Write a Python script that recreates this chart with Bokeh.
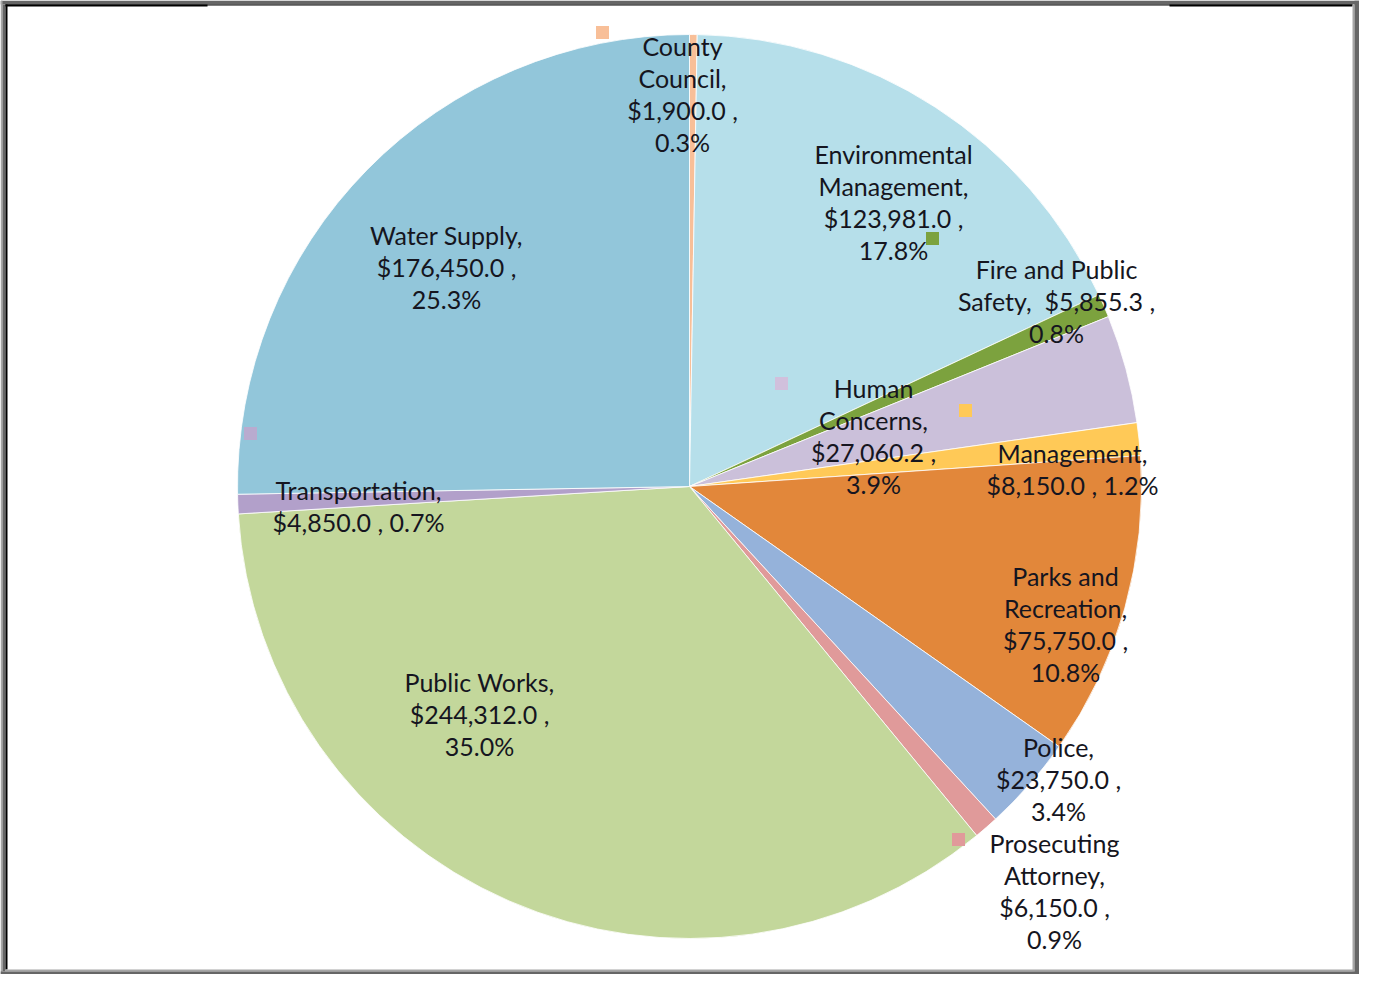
import math
from bokeh.plotting import figure
from bokeh.models import Range1d, ColumnDataSource
from bokeh.core.properties import value
from bokeh.embed import file_html
from bokeh.resources import INLINE

# ---------------- data ----------------
categories = ["County Council", "Environmental Management", "Fire and Public Safety",
              "Human Concerns", "Management", "Parks and Recreation", "Police",
              "Prosecuting Attorney", "Public Works", "Transportation", "Water Supply"]
amounts = [1900.0, 123981.0, 5855.3, 27060.2, 8150.0, 75750.0, 23750.0,
           6150.0, 244312.0, 4850.0, 176450.0]

# ---------------- styles / layout ----------------
colors = ["#F8BF98", "#B6DFEA", "#7CA23E", "#CBC0DA", "#FFC957", "#E2873A",
          "#95B2DA", "#E09A9A", "#C3D79B", "#B2A0CA", "#92C6DA"]

line_templates = {
    "County Council": ["County", "Council,", "{v} ,", "{p}"],
    "Environmental Management": ["Environmental", "Management,", "{v} ,", "{p}"],
    "Fire and Public Safety": ["Fire and Public", "Safety,\u00a0 {v} ,", "{p}"],
    "Human Concerns": ["Human", "Concerns,", "{v} ,", "{p}"],
    "Management": ["Management,", "{v} , {p}"],
    "Parks and Recreation": ["Parks and", "Recreation,", "{v} ,", "{p}"],
    "Police": ["Police,", "{v} ,", "{p}"],
    "Prosecuting Attorney": ["Prosecuting", "Attorney,", "{v} ,", "{p}"],
    "Public Works": ["Public Works,", "{v} ,", "{p}"],
    "Transportation": ["Transportation,", "{v} , {p}"],
    "Water Supply": ["Water Supply,", "{v} ,", "{p}"],
}
# label anchor (center x, first line center y) in pixel coordinates
label_anchor = {
    "County Council": (682, 45),
    "Environmental Management": (893, 153),
    "Fire and Public Safety": (1056, 268),
    "Human Concerns": (873, 387),
    "Management": (1072, 452),
    "Parks and Recreation": (1065, 575),
    "Police": (1058, 746),
    "Prosecuting Attorney": (1054, 842),
    "Public Works": (479, 681),
    "Transportation": (358, 489),
    "Water Supply": (446, 234),
}
LINE_GAP = 32.3

W, H = 1359, 974
CX, CY, R = 689, 486, 452


def fy(y):
    return H - y


p = figure(width=W, height=H, x_range=Range1d(0, W), y_range=Range1d(0, H),
           output_backend="svg", toolbar_location=None, min_border=0)
p.axis.visible = False
p.grid.visible = False
p.outline_line_color = None
p.background_fill_color = "white"
p.border_fill_color = "white"

# ---------------- pie ----------------
total = sum(amounts)
starts, ends = [], []
cum = 0.0
for a in amounts:
    f0 = cum / total
    cum += a
    f1 = cum / total
    starts.append(math.pi / 2 - 2 * math.pi * f1)
    ends.append(math.pi / 2 - 2 * math.pi * f0)

src = ColumnDataSource(dict(cat=categories, amt=amounts, start=starts, end=ends, color=colors))
p.wedge(x=CX, y=fy(CY), radius=R, start_angle="start", end_angle="end",
        fill_color="color", line_color="white", line_width=0.8, source=src)

# ---------------- legend keys near labels ----------------
key_specs = [
    (602, 32, "#F8BF98", 1.0),
    (932, 238, "#7CA23E", 1.0),
    (781, 383, "#E7A6CF", 0.55),
    (965, 410, "#FFC957", 1.0),
    (250, 433, "#CE9CC9", 0.65),
    (958, 839, "#E09A9A", 1.0),
]
for kx, ky, kc, ka in key_specs:
    p.rect(x=kx, y=fy(ky), width=13, height=13, fill_color=kc, fill_alpha=ka,
           line_color=None)

# ---------------- labels ----------------
tx, ty, tt = [], [], []
for cat, amt in zip(categories, amounts):
    v = "${:,.1f}".format(amt)
    pc = "{:.1f}%".format(amt / total * 100)
    ax, ay = label_anchor[cat]
    for i, line in enumerate(line_templates[cat]):
        tx.append(ax)
        ty.append(fy(ay + i * LINE_GAP))
        tt.append(line.format(v=v, p=pc))
p.text(x=tx, y=ty, text=tt, text_align="center", text_baseline="middle",
       text_font=value("Lato"), text_font_size="25px", text_color="#151520")

# ---------------- frame ----------------
def band(x0, x1, y0, y1, c):
    p.quad(left=x0, right=x1, top=fy(y0), bottom=fy(y1), fill_color=c, line_color=None)

band(0, W, 0, 4, "#666666")
band(0, 2, 0, H, "#A6A6A6")
band(2, 5, 4, H - 3, "#666666")
band(5, 7, 4, H - 5, "#000000")
band(5, W - 7, 4, 5, "#000000")
band(5, 207, 4, 6, "#000000")
band(1169, W - 7, 4, 6, "#000000")
band(W - 7, W - 5, 4, H - 3, "#A6A6A6")
band(W - 5, W, 0, H, "#666666")
band(5, W - 5, H - 5, H - 3, "#A6A6A6")
band(0, W, H - 3, H, "#666666")

open("out.html", "w").write(file_html(p, INLINE))
